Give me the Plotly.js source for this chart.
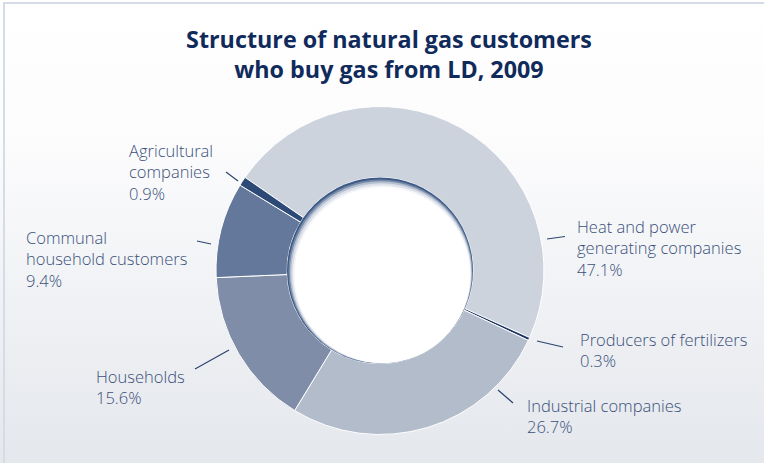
<!DOCTYPE html>
<html><head><meta charset="utf-8">
<script src="https://cdn.plot.ly/plotly-3.0.1.min.js"></script>
<style>
html,body{margin:0;padding:0;}
body{width:764px;height:463px;overflow:hidden;}
#wrap{position:relative;width:764px;height:463px;background:linear-gradient(to bottom,#ffffff 0%,#fcfcfd 30%,#e4e7ec 100%);overflow:hidden;}
#frame{position:absolute;left:3px;top:2px;right:-10px;bottom:-10px;border-left:2px solid #d5dce6;border-top:2px solid #d5dce6;}
#chart{position:absolute;left:0;top:0;width:764px;height:463px;}
</style></head><body><div id="wrap"><div id="frame"></div><div id="chart"></div></div>
<script>
// ---- data ----
const labels = ['Heat and power<br>generating companies', 'Producers of fertilizers', 'Industrial companies', 'Households', 'Communal<br>household customers', 'Agricultural<br>companies'];
const values = [47.1, 0.3, 26.7, 15.6, 9.4, 0.9];
const colors = ['#cdd3dd', '#1d3765', '#b3bccb', '#7f8da8', '#63789a', '#2d4a76'];
const titleText = 'Structure of natural gas customers<br>who buy gas from LD, 2009';

// ---- layout helpers (pixel positions) ----
const W = 764, H = 463;
const cx = 380, cy = 270.5, rOut = 164, rIn = 93;
// label text anchors: left x, first baseline y
const labelPos = [[576, 230], [579, 343.5], [526, 409], [95, 380], [25, 241], [128, 154]];
// leader line segments
const leaderPos = [[547, 239, 565, 236.5], [537, 341, 563, 347], [498, 390, 513, 403], [229, 350, 195, 369], [211, 244, 197, 241], [238, 181, 226, 172]];

const px = x => x / W, py = y => 1 - y / H;
const labelFont = {family: 'Open Sans', size: 16.5, weight: 300, color: '#3a507a'};
const ascent = 16.5;

const annotations = labels.map((l, i) => ({
  text: l + '<br>' + values[i].toFixed(1) + '%',
  xref: 'paper', yref: 'paper',
  x: px(labelPos[i][0]), y: py(labelPos[i][1] - ascent),
  xanchor: 'left', yanchor: 'top', align: 'left',
  showarrow: false, font: labelFont, borderpad: 0
}));

const shapes = [];
leaderPos.forEach(s => shapes.push({type: 'line', xref: 'paper', yref: 'paper',
  x0: px(s[0]), y0: py(s[1]), x1: px(s[2]), y1: py(s[3]),
  line: {color: '#2d4470', width: 1.2}}));

function circ(x, y, r, fill) {
  return {type: 'circle', xref: 'paper', yref: 'paper', layer: 'above',
    x0: px(x - r), x1: px(x + r), y0: py(y + r), y1: py(y - r),
    fillcolor: fill, line: {width: 0}};
}
shapes.push(circ(cx, cy, rIn, '#3d5985'));
const steps = [[1.0, 'rgba(255,255,255,0.30)'], [2.0, 'rgba(255,255,255,0.45)'], [3.0, 'rgba(255,255,255,0.55)'], [4.2, 'rgba(255,255,255,0.7)'], [5.2, '#ffffff']];
steps.forEach(([d, f]) => shapes.push(circ(cx + d * 0.45, cy + d * 0.89, rIn - d, f)));

const trace = {
  type: 'pie',
  labels: labels.map(s => s.replace('<br>', ' ')),
  values: values,
  hole: rIn / rOut,
  sort: false,
  direction: 'clockwise',
  rotation: -55.4,
  textinfo: 'none',
  hoverinfo: 'none',
  marker: {colors: colors, line: {color: '#ffffff', width: 1}},
  domain: {x: [px(cx - rOut), px(cx + rOut)], y: [py(cy + rOut), py(cy - rOut)]},
  showlegend: false
};

const layout = {
  width: W, height: H,
  margin: {l: 0, r: 0, t: 0, b: 0},
  paper_bgcolor: 'rgba(0,0,0,0)', plot_bgcolor: 'rgba(0,0,0,0)',
  title: {text: titleText, font: {family: 'Open Sans', size: 23.3, weight: 700, color: '#0f2a5b'},
    x: 389 / W, xanchor: 'center', xref: 'container', y: 1 - 48 / H, yanchor: 'top', yref: 'container'},
  annotations: annotations,
  shapes: shapes,
  showlegend: false
};

Plotly.newPlot('chart', [trace], layout, {displayModeBar: false, staticPlot: true});
</script></body></html>
